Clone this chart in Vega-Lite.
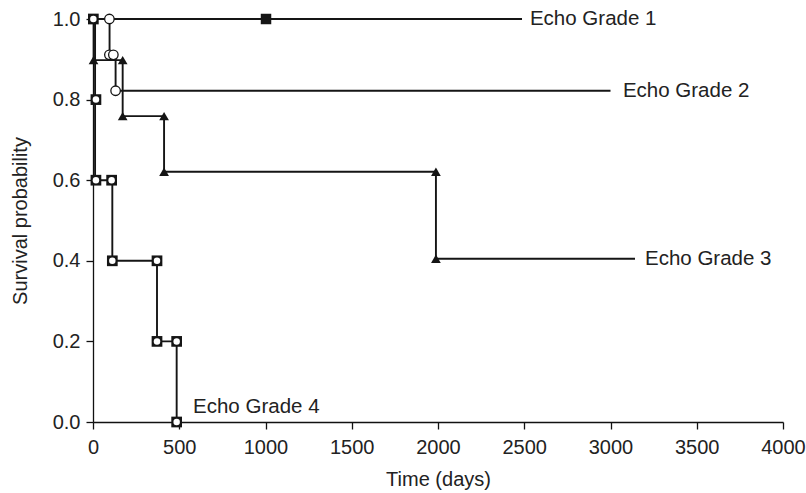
{
  "$schema": "https://vega.github.io/schema/vega-lite/v6.json",
  "width": 690,
  "height": 403,
  "autosize": {"type": "none"},
  "padding": {"left": 93, "top": 19, "right": 23, "bottom": 71},
  "background": "white",
  "config": {
    "view": {"stroke": null},
    "font": "Liberation Sans"
  },
  "datasets": {
    "lines": [
      {"curve": "G1", "ord": 1, "t": 0, "s": 1.0},
      {"curve": "G1", "ord": 2, "t": 2487, "s": 1.0},
      {"curve": "G2", "ord": 1, "t": 0, "s": 1.0},
      {"curve": "G2", "ord": 2, "t": 96, "s": 1.0},
      {"curve": "G2", "ord": 3, "t": 96, "s": 0.911},
      {"curve": "G2", "ord": 4, "t": 131, "s": 0.911},
      {"curve": "G2", "ord": 5, "t": 131, "s": 0.822},
      {"curve": "G2", "ord": 6, "t": 3000, "s": 0.822},
      {"curve": "G3", "ord": 1, "t": 0, "s": 1.0},
      {"curve": "G3", "ord": 2, "t": 4, "s": 1.0},
      {"curve": "G3", "ord": 3, "t": 4, "s": 0.898},
      {"curve": "G3", "ord": 4, "t": 172, "s": 0.898},
      {"curve": "G3", "ord": 5, "t": 172, "s": 0.759},
      {"curve": "G3", "ord": 6, "t": 412, "s": 0.759},
      {"curve": "G3", "ord": 7, "t": 412, "s": 0.621},
      {"curve": "G3", "ord": 8, "t": 1988, "s": 0.621},
      {"curve": "G3", "ord": 9, "t": 1988, "s": 0.405},
      {"curve": "G3", "ord": 10, "t": 3142, "s": 0.405},
      {"curve": "G4", "ord": 1, "t": 0, "s": 1.0},
      {"curve": "G4", "ord": 2, "t": 12, "s": 1.0},
      {"curve": "G4", "ord": 3, "t": 12, "s": 0.6},
      {"curve": "G4", "ord": 4, "t": 112, "s": 0.6},
      {"curve": "G4", "ord": 5, "t": 112, "s": 0.4},
      {"curve": "G4", "ord": 6, "t": 371, "s": 0.4},
      {"curve": "G4", "ord": 7, "t": 371, "s": 0.2},
      {"curve": "G4", "ord": 8, "t": 485, "s": 0.2},
      {"curve": "G4", "ord": 9, "t": 485, "s": 0.0}
    ],
    "g1pts": [{"t": 1003, "s": 1.0}],
    "g2pts": [
      {"t": 95, "s": 1.0},
      {"t": 95, "s": 0.911},
      {"t": 118, "s": 0.911},
      {"t": 131, "s": 0.822}
    ],
    "g3pts": [
      {"t": 3, "s": 0.898},
      {"t": 172, "s": 0.898},
      {"t": 172, "s": 0.759},
      {"t": 412, "s": 0.759},
      {"t": 412, "s": 0.621},
      {"t": 1988, "s": 0.621},
      {"t": 1988, "s": 0.405}
    ],
    "g4pts": [
      {"t": 2, "s": 1.0},
      {"t": 17, "s": 0.8},
      {"t": 17, "s": 0.6},
      {"t": 108, "s": 0.6},
      {"t": 112, "s": 0.4},
      {"t": 371, "s": 0.4},
      {"t": 371, "s": 0.2},
      {"t": 485, "s": 0.2},
      {"t": 485, "s": 0.0}
    ],
    "labels": [
      {"t": 2533, "s": 1.0, "label": "Echo Grade 1"},
      {"t": 3072, "s": 0.822, "label": "Echo Grade 2"},
      {"t": 3200, "s": 0.405, "label": "Echo Grade 3"},
      {"t": 580, "s": 0.037, "label": "Echo Grade 4"}
    ]
  },
  "layer": [
    {
      "data": {"name": "lines"},
      "mark": {"type": "line", "color": "#151515", "strokeWidth": 1.9, "interpolate": "linear"},
      "encoding": {
        "x": {
          "field": "t", "type": "quantitative",
          "scale": {"domain": [0, 4000], "nice": false, "zero": false},
          "axis": {"values": [0, 500, 1000, 1500, 2000, 2500, 3000, 3500, 4000], "format": "d", "title": "Time (days)",
                   "grid": false, "domainColor": "#111", "tickColor": "#111", "labelColor": "#222", "titleColor": "#222",
                   "labelFont": "Liberation Sans", "titleFont": "Liberation Sans", "labelFontSize": 20, "titleFontSize": 20,
                   "titleFontWeight": "normal", "domainWidth": 1.3, "tickWidth": 1.3, "tickSize": 7,
                   "labelFlush": false, "labelOverlap": false, "titlePadding": 12, "labelPadding": 8}
        },
        "y": {
          "field": "s", "type": "quantitative",
          "scale": {"domain": [0, 1], "nice": false},
          "axis": {"values": [0, 0.2, 0.4, 0.6, 0.8, 1.0], "format": ".1f", "title": "Survival probability",
                   "grid": false, "domainColor": "#111", "tickColor": "#111", "labelColor": "#222", "titleColor": "#222",
                   "labelFont": "Liberation Sans", "titleFont": "Liberation Sans", "labelFontSize": 20, "titleFontSize": 20,
                   "titleFontWeight": "normal", "domainWidth": 1.3, "tickWidth": 1.3, "tickSize": 7,
                   "labelFlush": false, "labelOverlap": false, "titlePadding": 22, "labelPadding": 6}
        },
        "detail": {"field": "curve"},
        "order": {"field": "ord", "type": "quantitative"}
      }
    },
    {
      "data": {"name": "g1pts"},
      "mark": {"type": "point", "shape": "square", "filled": true, "color": "#151515", "size": 110, "opacity": 1},
      "encoding": {
        "x": {"field": "t", "type": "quantitative"},
        "y": {"field": "s", "type": "quantitative"}
      }
    },
    {
      "data": {"name": "g2pts"},
      "mark": {"type": "point", "shape": "circle", "filled": true, "fill": "white", "stroke": "#151515", "strokeWidth": 1.3, "size": 90, "opacity": 1},
      "encoding": {
        "x": {"field": "t", "type": "quantitative"},
        "y": {"field": "s", "type": "quantitative"}
      }
    },
    {
      "data": {"name": "g3pts"},
      "mark": {"type": "point", "shape": "triangle-up", "filled": true, "color": "#151515", "size": 95, "opacity": 1},
      "encoding": {
        "x": {"field": "t", "type": "quantitative"},
        "y": {"field": "s", "type": "quantitative"}
      }
    },
    {
      "data": {"name": "g4pts"},
      "mark": {"type": "point", "shape": "square", "filled": true, "color": "#151515", "size": 115, "opacity": 1},
      "encoding": {
        "x": {"field": "t", "type": "quantitative"},
        "y": {"field": "s", "type": "quantitative"}
      }
    },
    {
      "data": {"name": "g4pts"},
      "mark": {"type": "point", "shape": "circle", "filled": true, "color": "white", "size": 42, "opacity": 1},
      "encoding": {
        "x": {"field": "t", "type": "quantitative"},
        "y": {"field": "s", "type": "quantitative"}
      }
    },
    {
      "data": {"name": "labels"},
      "mark": {"type": "text", "align": "left", "baseline": "middle", "font": "Liberation Sans", "fontSize": 20.5, "color": "#222"},
      "encoding": {
        "x": {"field": "t", "type": "quantitative"},
        "y": {"field": "s", "type": "quantitative"},
        "text": {"field": "label"}
      }
    }
  ]
}
